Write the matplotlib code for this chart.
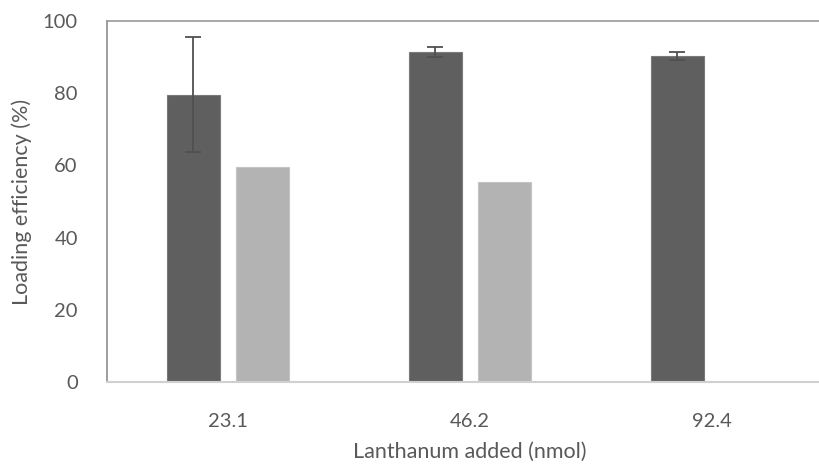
import numpy as np
import matplotlib
matplotlib.use("Agg")
import matplotlib.pyplot as plt

plt.rcParams['font.family'] = ['Lato', 'DejaVu Sans']

categories = ['23.1', '46.2', '92.4']
dark_vals = [79.6, 91.3, 90.3]
dark_err = [16.0, 1.4, 1.0]
light_vals = [59.5, 55.4, 0.0]

txt = '#595959'

fig = plt.figure(figsize=(8.19, 4.66), dpi=100)
# plot area runs a little past the right edge of the picture
ax = fig.add_axes([107 / 819, 1 - 382 / 466, 726 / 819, 361 / 466])

x = np.arange(len(categories))
w = 0.223
off = 0.1426

ax.bar(x - off, dark_vals, w, color='#5f5f5f', edgecolor='#7a7a7a', linewidth=0.8,
       yerr=dark_err, error_kw=dict(ecolor='#505050', elinewidth=1.3, capsize=6, capthick=1.3))
mask = np.array(light_vals) > 0
ax.bar(x[mask] + off, np.array(light_vals)[mask], w, color='#b3b3b3',
       edgecolor='#c4c4c4', linewidth=0.8)

ax.set_xlim(-0.5, 2.5)
ax.set_ylim(0, 100)
ax.set_yticks(range(0, 101, 20))
ax.set_xticks(x)
ax.set_xticklabels(categories)
ax.tick_params(length=0, labelsize=14.5, colors=txt)
ax.tick_params(axis='y', pad=21)
ax.tick_params(axis='x', pad=22)

ax.spines['left'].set_color('#8c8c8c')
ax.spines['left'].set_linewidth(1.2)
ax.spines['top'].set_color('#9a9a9a')
ax.spines['top'].set_linewidth(1.2)
ax.spines['bottom'].set_color('#d0d0d0')
ax.spines['bottom'].set_linewidth(1.5)
ax.spines['right'].set_visible(False)

ax.set_xlabel('Lanthanum added (nmol)', fontsize=15.5, color=txt, labelpad=9)
ax.set_ylabel('Loading efficiency (%)', fontsize=15.5, color=txt, labelpad=8)

fig.savefig('out.png', dpi=100)
